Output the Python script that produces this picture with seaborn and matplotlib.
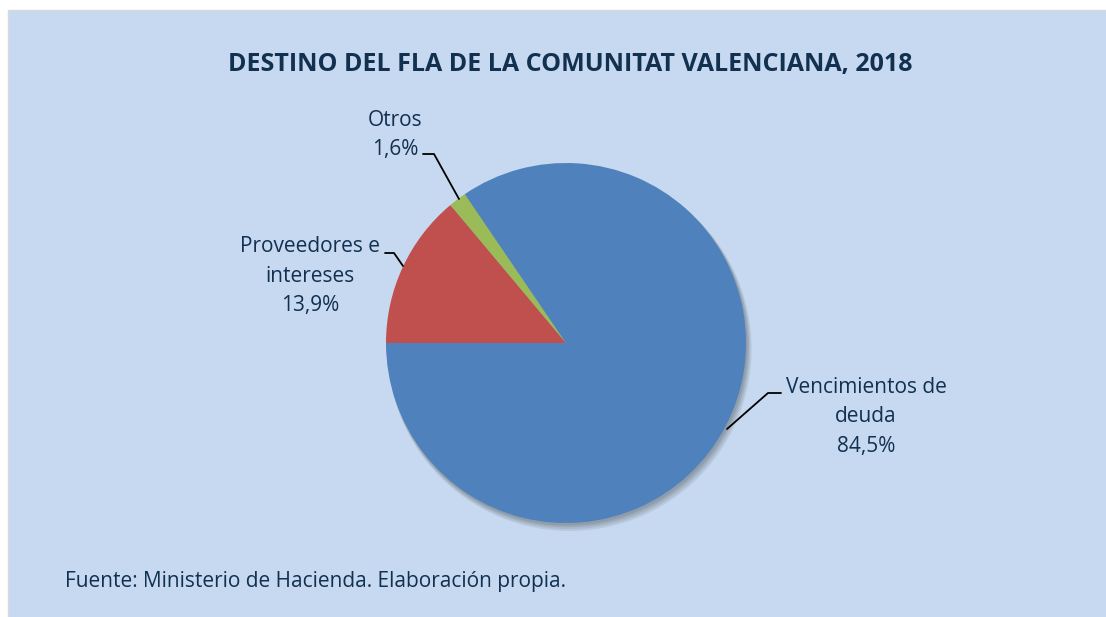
import matplotlib
matplotlib.use("Agg")
import matplotlib.pyplot as plt
import seaborn as sns
from matplotlib.patches import Rectangle, Circle

sns.set_theme(style="white")
plt.rcParams['font.family'] = ['Open Sans', 'DejaVu Sans']

categories = ["Proveedores e\nintereses", "Otros", "Vencimientos de\ndeuda"]
values = [13.9, 1.6, 84.5]
pct_labels = ["13,9%", "1,6%", "84,5%"]
colors = ["#C0504D", "#9BBB59", "#4F81BD"]

W, H = 1106, 617
fig = plt.figure(figsize=(W / 100, H / 100), dpi=100)
fig.patch.set_facecolor("white")
ax = fig.add_axes([0, 0, 1, 1])

def Y(py):
    return H - py

txt = "#12304F"
ax.add_patch(Rectangle((8, -5), W, Y(10) + 5, facecolor="#C6D9F0",
                       edgecolor="#D9D9D9", linewidth=1, zorder=0))

cx, cy, r = 566, Y(343), 180
# soft shadow
for i, a in enumerate([0.10, 0.10, 0.12, 0.14]):
    off = 6 - i * 1.2
    ax.add_patch(Circle((cx + off * 0.6, cy - off), r + 2 - i * 0.6, facecolor="#404040",
                        edgecolor="none", alpha=a, zorder=1))

ax.pie(values, colors=colors, startangle=180, counterclock=False,
       center=(cx, cy), radius=r, frame=True,
       wedgeprops=dict(linewidth=0, zorder=2))
ax.set_xlim(0, W)
ax.set_ylim(0, H)
ax.set_aspect("equal")
ax.axis("off")

ax.text(570, Y(65), "DESTINO DEL FLA DE LA COMUNITAT VALENCIANA, 2018",
        ha="center", va="center", fontsize=18, fontweight="bold", color=txt)

fs = 15
ls = 1.52
ax.text(310, Y(276), categories[0] + "\n" + pct_labels[0], ha="center", va="center",
        fontsize=fs, color=txt, linespacing=ls)
ax.text(395, Y(135), categories[1] + "\n" + pct_labels[1], ha="center", va="center",
        fontsize=fs, color=txt, linespacing=ls)
ax.text(866, Y(417), categories[2] + "\n" + pct_labels[2], ha="center", va="center",
        fontsize=fs, color=txt, linespacing=ls)

# leader lines
lk = dict(color="black", lw=1.3, zorder=5)
ax.plot([385, 394, 403], [Y(253), Y(253), Y(266)], **lk)
ax.plot([423, 434, 459], [Y(154), Y(154), Y(199)], **lk)
ax.plot([781, 768, 727], [Y(393), Y(393), Y(429)], **lk)

ax.text(65, Y(581), "Fuente: Ministerio de Hacienda. Elaboración propia.",
        ha="left", va="center", fontsize=15, color=txt)

fig.savefig("out.png", dpi=100, facecolor=fig.get_facecolor())
